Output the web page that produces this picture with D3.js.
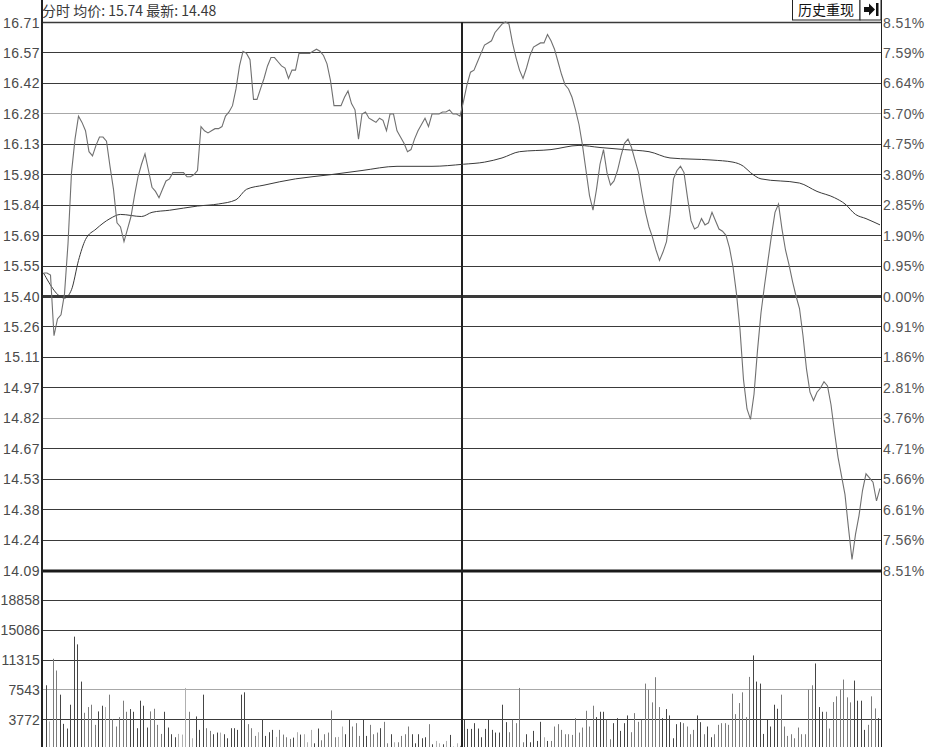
<!DOCTYPE html>
<html><head><meta charset="utf-8">
<script src="https://cdn.jsdelivr.net/npm/d3@7/dist/d3.min.js"></script>
<style>
html,body{margin:0;padding:0;background:#fff;}
svg{display:block;}
</style></head>
<body>
<svg id="chart" width="927" height="747"></svg>
<script>
// ---------- DATA ----------
const titleText = "分时 均价: 15.74 最新: 14.48";
const buttonText = "历史重现";
const priceTickLabels = ["16.71","16.57","16.42","16.28","16.13","15.98","15.84","15.69","15.55","15.40","15.26","15.11","14.97","14.82","14.67","14.53","14.38","14.24","14.09"];
const pctTickLabels = ["8.51%","7.59%","6.64%","5.70%","4.75%","3.80%","2.85%","1.90%","0.95%","0.00%","0.91%","1.86%","2.81%","3.76%","4.71%","5.66%","6.61%","7.56%","8.51%"];
const volTickValues = [3772, 7543, 11315, 15086, 18858];
const priceMax = 16.71, priceMin = 14.09, prevClose = 15.40, volMax = 22630;

const pricesMorning = [15.51,15.51,15.50,15.21,15.29,15.31,15.41,15.65,15.99,16.15,
16.26,16.23,16.19,16.09,16.07,16.12,16.16,16.16,16.14,16.02,
15.91,15.75,15.73,15.66,15.72,15.78,15.88,15.97,16.03,16.08,
16.00,15.92,15.90,15.87,15.91,15.95,15.96,15.99,15.99,15.99,
15.99,15.97,15.97,15.98,16.00,16.21,16.19,16.18,16.19,16.20,
16.20,16.21,16.26,16.28,16.31,16.39,16.50,16.57,16.56,16.53,
16.34,16.34,16.39,16.44,16.50,16.54,16.54,16.52,16.50,16.49,
16.44,16.48,16.48,16.56,16.56,16.56,16.56,16.57,16.58,16.57,
16.55,16.51,16.43,16.31,16.31,16.31,16.35,16.38,16.32,16.29,
16.15,16.27,16.28,16.25,16.24,16.23,16.25,16.24,16.19,16.27,
16.27,16.19,16.16,16.13,16.09,16.10,16.15,16.19,16.22,16.25,
16.21,16.27,16.27,16.27,16.28,16.28,16.29,16.27,16.27,16.26];
const pricesAfternoon = [16.33,16.41,16.47,16.48,16.52,16.56,16.60,16.61,16.62,16.66,
16.68,16.70,16.71,16.70,16.61,16.54,16.48,16.44,16.49,16.55,
16.59,16.60,16.61,16.61,16.65,16.62,16.58,16.52,16.46,16.41,
16.39,16.35,16.29,16.22,16.12,16.00,15.88,15.81,15.91,16.03,
16.10,15.99,15.93,15.95,16.00,16.07,16.13,16.15,16.11,16.05,
15.99,15.89,15.80,15.73,15.68,15.62,15.57,15.61,15.66,15.79,
15.96,16.00,16.02,15.99,15.87,15.76,15.72,15.73,15.77,15.74,
15.75,15.80,15.76,15.72,15.71,15.69,15.63,15.54,15.41,15.24,
15.00,14.86,14.81,14.93,15.14,15.32,15.45,15.57,15.69,15.80,
15.84,15.72,15.62,15.55,15.47,15.40,15.34,15.21,15.05,14.94,
14.90,14.94,14.96,14.99,14.97,14.88,14.75,14.63,14.54,14.45,
14.29,14.14,14.26,14.35,14.47,14.55,14.53,14.51,14.42,14.48];

const avgMinutes = [0,6,8,10,12,15,19,22,28,31,36,44,50,55,58,63,72,82,91,101,111,120,126,131,136,145,153,159,166,173,179,191,197,200,202,205,216,221,226,229,232,235,239];
const avgPrices  = [15.51,15.39,15.43,15.57,15.67,15.72,15.77,15.79,15.78,15.80,15.81,15.83,15.84,15.86,15.91,15.93,15.96,15.98,16.00,16.02,16.02,16.03,16.04,16.06,16.09,16.10,16.12,16.11,16.10,16.09,16.06,16.05,16.04,16.02,15.99,15.96,15.94,15.90,15.87,15.84,15.79,15.77,15.74];

const volumesMorning = [8056,3477,11406,9922,6869,3180,2586,5597,14204,13229,
8522,4579,5300,5597,3053,4749,5470,5300,6869,3774,
2841,4028,6106,4706,5046,4706,2629,6106,5470,2714,
4749,5088,3053,1908,4706,2714,1866,1484,1908,1823,
7717,4706,1357,4113,2417,6869,2629,2290,1866,2078,
2078,1866,1357,2629,2629,2417,6869,7166,3138,2629,
1654,2120,3774,1654,2120,2417,1526,2417,1823,1484,
1272,1442,2120,1823,1866,848,2417,721,2586,1102,
1866,2078,4876,1484,1526,2841,1866,3689,2841,3265,
1654,3689,1654,3053,1866,2078,2629,3434,721,1866,
848,848,1654,1866,2841,1866,721,1866,1357,1484,
3138,594,1018,721,594,1018,1781,297,721,400];
const volumesAfternoon = [3700,2544,2544,3265,2586,1484,2544,3689,2417,2078,
2078,5597,3392,2120,3689,3265,7717,848,1866,848,
2290,1018,3434,1484,1018,1018,2841,3138,2417,1866,
1866,1781,3901,2078,2714,4834,2841,5470,4028,4706,
4706,3689,1230,3265,3901,2290,3265,4240,2120,4537,
3434,3689,8268,7505,5894,9074,5300,3901,5046,4240,
1357,3138,3392,3265,2841,1866,2417,4240,3392,1866,
2841,1484,1866,3053,3265,3265,3053,6996,4410,5809,
7166,4028,9116,11830,8522,8268,1908,3689,2841,5597,
5088,6869,2841,1654,1866,1357,2714,1866,1866,7505,
8056,10812,5300,4706,4706,2586,5936,6657,7505,8777,
6530,5894,8650,6106,6106,2417,3053,6657,5130,3901];

const prices = pricesMorning.concat(pricesAfternoon);
const volumes = volumesMorning.concat(volumesAfternoon);

// ---------- LAYOUT ----------
const svg = d3.select("#chart");
const L = 42, R = 881, MID = 462;
const priceTop = 22, priceBottom = 570;
const volBottom = 749;
const fontNum = "'Liberation Sans', Arial, sans-serif";
const fontCJK = "'Noto Sans CJK SC', 'Liberation Sans', sans-serif";

const x = d3.scaleLinear().domain([0, 239]).range([43.5, 880]);
const xv = d3.scaleLinear().domain([0, 239]).range([46, 878]);
const y = d3.scaleLinear().domain([priceMin, priceMax]).range([priceBottom, priceTop]);
const yv = d3.scaleLinear().domain([0, volMax]).range([volBottom, priceBottom]);

const step = (priceMax - priceMin) / 18;
const priceTickValues = priceTickLabels.map((d, i) => priceMax - i * step);

// grid lines (price)
const lightIdx = new Set([3, 13]);
svg.append("g").selectAll("line").data(priceTickValues).join("line")
  .attr("x1", L).attr("x2", R)
  .attr("y1", d => Math.round(y(d)) + 0.5).attr("y2", d => Math.round(y(d)) + 0.5)
  .attr("stroke", (d, i) => lightIdx.has(i) ? "#a8a8a8" : "#3a3a3a")
  .attr("stroke-width", (d, i) => (i === 9) ? 3 : (i === 0 ? 1.5 : 1));

// grid lines (volume)
svg.append("g").selectAll("line").data(volTickValues).join("line")
  .attr("x1", L).attr("x2", R)
  .attr("y1", d => Math.round(yv(d)) + 0.5).attr("y2", d => Math.round(yv(d)) + 0.5)
  .attr("stroke", d => d === 7543 ? "#a8a8a8" : "#3a3a3a")
  .attr("stroke-width", 1);

// volume bars
svg.append("g").selectAll("line").data(volumes).join("line")
  .attr("x1", (d, i) => Math.round(xv(i)) + 0.5).attr("x2", (d, i) => Math.round(xv(i)) + 0.5)
  .attr("y1", yv(0)).attr("y2", d => yv(d))
  .attr("stroke", (d, i) => {
    const prev = i === 0 ? prevClose : prices[i - 1];
    return prices[i] > prev ? "#454545" : (prices[i] < prev ? "#7c7c7c" : "#b0b0b0");
  })
  .attr("stroke-width", 1);

// thick separator at 14.09 / volume top
svg.append("line").attr("x1", L).attr("x2", R).attr("y1", priceBottom + 1).attr("y2", priceBottom + 1)
  .attr("stroke", "#1a1a1a").attr("stroke-width", 3);

// axes frame
svg.append("line").attr("x1", L).attr("x2", L).attr("y1", 0).attr("y2", 747).attr("stroke", "#222").attr("stroke-width", 2);
svg.append("line").attr("x1", R + 0.5).attr("x2", R + 0.5).attr("y1", 0).attr("y2", 747).attr("stroke", "#222").attr("stroke-width", 1);
svg.append("line").attr("x1", MID).attr("x2", MID).attr("y1", priceTop).attr("y2", 747).attr("stroke", "#222").attr("stroke-width", 2);

// average line
const avgLine = d3.line().x((d, i) => x(avgMinutes[i])).y(d => y(d)).curve(d3.curveMonotoneX);
svg.append("path").datum(avgPrices).attr("d", avgLine)
  .attr("fill", "none").attr("stroke", "#3a3a3a").attr("stroke-width", 1);

// price line
const priceLine = d3.line().x((d, i) => x(i)).y(d => y(d));
svg.append("path").datum(prices).attr("d", priceLine)
  .attr("fill", "none").attr("stroke", "#707070").attr("stroke-width", 1.1);

// left price axis labels
const leftAxis = d3.axisLeft(y).tickValues(priceTickValues)
  .tickFormat((d, i) => priceTickLabels[i]).tickSize(0).tickPadding(2);
const gl = svg.append("g").attr("transform", `translate(${L},0)`).call(leftAxis);
gl.select(".domain").remove();
gl.selectAll("text").attr("font-family", fontNum).attr("font-size", 14)
  .attr("letter-spacing", 0.4).attr("fill", "#4a4a4a").attr("dy", "0.36em");

// right pct axis labels
const rightAxis = d3.axisRight(y).tickValues(priceTickValues)
  .tickFormat((d, i) => pctTickLabels[i]).tickSize(0).tickPadding(2);
const gr = svg.append("g").attr("transform", `translate(${R},0)`).call(rightAxis);
gr.select(".domain").remove();
gr.selectAll("text").attr("font-family", fontNum).attr("font-size", 14)
  .attr("letter-spacing", 0.4).attr("fill", "#555").attr("dy", "0.36em");

// left volume labels
const volAxis = d3.axisLeft(yv).tickValues(volTickValues).tickFormat(d3.format("d")).tickSize(0).tickPadding(2);
const gv = svg.append("g").attr("transform", `translate(${L},0)`).call(volAxis);
gv.select(".domain").remove();
gv.selectAll("text").attr("font-family", fontNum).attr("font-size", 14)
  .attr("letter-spacing", 0.1).attr("fill", "#4a4a4a").attr("dy", "0.36em");

// title
svg.append("text").attr("x", 42).attr("y", 16).text(titleText)
  .attr("font-family", fontCJK).attr("font-size", 14).attr("fill", "#3a3a3a");

// button
svg.append("rect").attr("x", 792.5).attr("y", -1).attr("width", 67.5).attr("height", 21)
  .attr("fill", "#fff").attr("stroke", "#222").attr("stroke-width", 1);
svg.append("text").attr("x", 826).attr("y", 15).attr("text-anchor", "middle").text(buttonText)
  .attr("font-family", fontCJK).attr("font-size", 14).attr("fill", "#111");
svg.append("rect").attr("x", 860).attr("y", -1).attr("width", 21).attr("height", 21)
  .attr("fill", "#fff").attr("stroke", "#222").attr("stroke-width", 1);
svg.append("path")
  .attr("d", "M864,7 L869,7 L869,3.5 L875,9.5 L869,15.5 L869,12 L864,12 Z M876,3 L878.5,3 L878.5,16 L876,16 Z")
  .attr("fill", "#111");
</script>
</body></html>
